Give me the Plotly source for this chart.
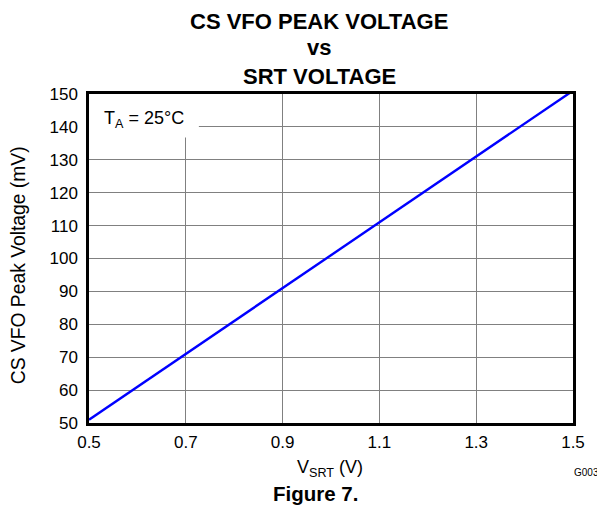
import plotly.graph_objects as go

v_srt = [0.5, 0.7, 0.9, 1.1, 1.3, 1.5]
cs_peak_mv = [51, 71, 91, 111, 131, 151]
x_ticks = [0.5, 0.7, 0.9, 1.1, 1.3, 1.5]
y_ticks = [50, 60, 70, 80, 90, 100, 110, 120, 130, 140, 150]

W, H = 597, 508
L, R, T, B = 89, 575, 94, 423  # plot area in page pixels
FONT = "Liberation Sans, Arial, sans-serif"

def py(ypx):
    return (B - ypx) / (B - T)

def px(xpx):
    return (xpx - L) / (R - L)

fig = go.Figure()
fig.add_trace(go.Scatter(x=v_srt, y=cs_peak_mv, mode="lines",
                         line=dict(color="#0000ff", width=2.4),
                         showlegend=False))

fig.add_shape(type="rect", xref="x", yref="y", x0=0.5, x1=0.727, y0=136.8, y1=150,
              fillcolor="white", line=dict(width=0), layer="between")

def note(text, x, y, size, xanchor="center", bold=False, angle=0):
    return dict(text=f"<b>{text}</b>" if bold else text, x=px(x), y=py(y),
                xref="paper", yref="paper", xanchor=xanchor, yanchor="middle",
                textangle=angle, showarrow=False,
                font=dict(size=size, color="black", family=FONT))

ann = [
    note("CS VFO PEAK VOLTAGE", 320, 21, 22, bold=True),
    note("vs", 320, 48, 22, bold=True),
    note("SRT VOLTAGE", 320, 76, 22, bold=True),
    note("T<sub>A</sub> = 25°C", 102, 119, 18, xanchor="left"),
    note("V<sub>SRT</sub> (V)", 331, 468, 18),
    note("G003", 574, 472, 10, xanchor="left"),
    note("Figure 7.", 316, 493, 20.5, bold=True),
    note("CS VFO Peak Voltage (mV)", 18, 265, 19.3, angle=-90),
]

fig.update_layout(
    width=W, height=H,
    margin=dict(l=L, r=W - R, t=T, b=H - B, pad=0),
    paper_bgcolor="white", plot_bgcolor="white",
    font=dict(family=FONT, size=17, color="black"),
    annotations=ann,
    xaxis=dict(range=[0.5, 1.5], tickvals=x_ticks, ticktext=[f"{v:.1f}" for v in x_ticks],
               showgrid=True, gridcolor="#808080", gridwidth=1,
               showline=True, linecolor="black", linewidth=2.5, mirror=True,
               ticks="", zeroline=False, tickfont=dict(size=17), ticklabelstandoff=2),
    yaxis=dict(range=[50, 150], tickvals=y_ticks,
               showgrid=True, gridcolor="#808080", gridwidth=1,
               showline=True, linecolor="black", linewidth=2.5, mirror=True,
               ticks="", zeroline=False, tickfont=dict(size=17), ticklabelstandoff=5),
)

fig.write_html("out.html", config={"displayModeBar": False},
               post_script="document.body.style.margin='0';document.body.style.overflow='hidden';")
